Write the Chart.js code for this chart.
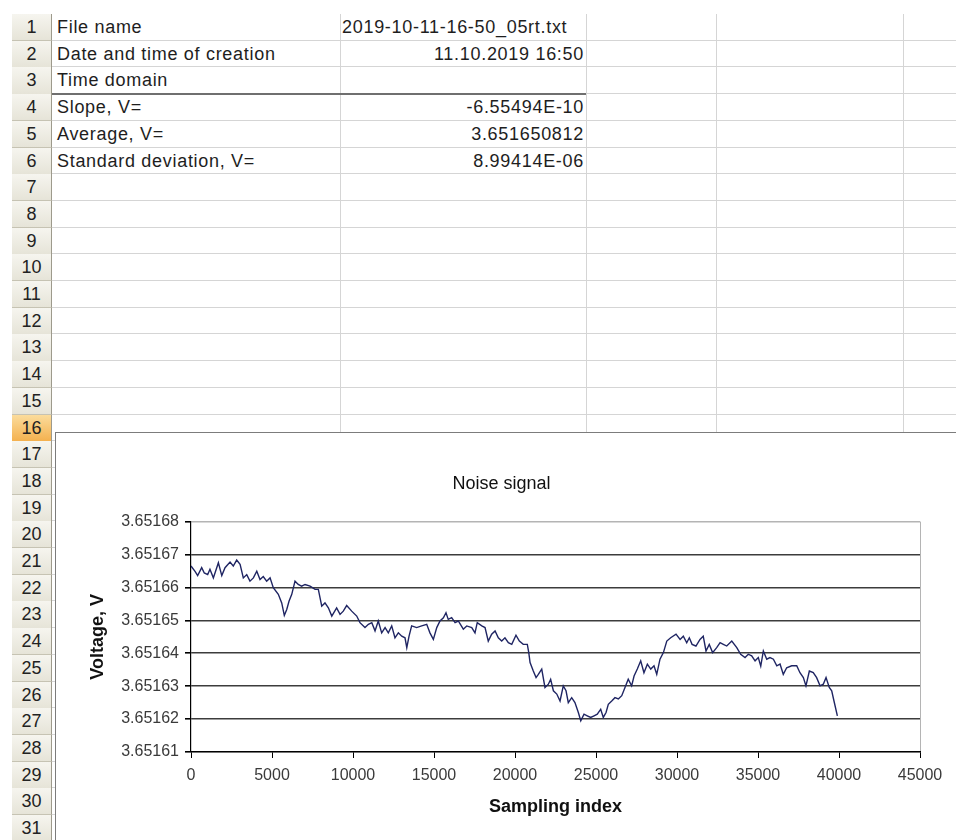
<!DOCTYPE html>
<html>
<head>
<meta charset="utf-8">
<title>Noise signal</title>
<script src="https://cdn.jsdelivr.net/npm/chart.js@4.4.1/dist/chart.umd.min.js"></script>
<style>
  html, body { margin: 0; padding: 0; background: #fff; }
  body {
    position: relative; width: 956px; height: 840px; overflow: hidden;
    font-family: "Liberation Sans", Arial, sans-serif; color: #1e1e1e;
  }
  .abs { position: absolute; box-sizing: border-box; }
  .hline { height: 1px; background: #d5d5d5; }
  .vline { width: 1px; background: #d5d5d5; }
  .rowhead {
    background: linear-gradient(#f6f5ef, #e6e4d8);
    border-bottom: 1px solid #c6c3b3; border-right: 1px solid #9d9a8c;
    font-size: 18px; text-align: center; color: #222;
  }
  .rowhead.sel { background: linear-gradient(#fbdc9c, #f4b14f); }
  .cell { font-size: 18px; letter-spacing: 0.7px; white-space: nowrap; color: #1e1e1e; }
  #chartBox {
    position: absolute; left: 55px; top: 432px; width: 901px; height: 408px;
    background: #fff; border-top: 1px solid #7c7c7c; border-left: 1px solid #7c7c7c;
  }
  #chartBox canvas { display: block; }
</style>
</head>
<body>
<div id="sheet"></div>
<div id="chartBox"><canvas id="noiseChart" width="900" height="407"></canvas></div>
<script>
// ----- DATA -----
const sampleIndex = [
  0, 250, 410, 660, 820, 1030, 1170, 1380, 1690, 1900, 2100, 2410,
  2610, 2820, 3030, 3230, 3440, 3640, 3850, 4060, 4260, 4460, 4670, 4880,
  5080, 5390, 5600, 5760, 5910, 6050, 6220, 6420, 6620, 6830, 7040, 7350,
  7660, 7860, 8070, 8270, 8480, 8690, 8990, 9200, 9400, 9610, 9920, 10230,
  10430, 10740, 10950, 11160, 11360, 11560, 11770, 11980, 12180, 12390, 12590, 12800,
  13010, 13210, 13320, 13460, 13620, 13930, 14240, 14550, 14750, 14960, 15170, 15370,
  15580, 15740, 15880, 16090, 16300, 16500, 16810, 17020, 17330, 17530, 17670, 17950,
  18150, 18350, 18560, 18770, 18970, 19180, 19380, 19590, 19800, 20060, 20270, 20510,
  20760, 20850, 20930, 21130, 21300, 21440, 21650, 21850, 22060, 22200, 22370, 22580,
  22780, 22980, 23150, 23290, 23500, 23700, 23910, 24060, 24260, 24460, 24670, 24880,
  25080, 25290, 25450, 25620, 25760, 25970, 26170, 26380, 26590, 26790, 26990, 27200,
  27350, 27550, 27760, 27960, 28170, 28380, 28580, 28750, 28950, 29160, 29370, 29610,
  29940, 30190, 30390, 30600, 30760, 30930, 31170, 31420, 31620, 31790, 31990, 32200,
  32450, 32660, 32860, 33070, 33380, 33690, 33930, 34200, 34400, 34610, 34820, 35020,
  35170, 35330, 35540, 35740, 35950, 36160, 36360, 36560, 36770, 37080, 37390, 37590,
  37800, 37960, 38170, 38410, 38620, 38830, 39030, 39200, 39400, 39550, 39690, 39900
];

const voltage = [
  3.6516665, 3.6516649, 3.6516636, 3.6516660, 3.6516644, 3.6516639, 3.6516655, 3.6516629, 3.6516675, 3.6516636, 3.6516660, 3.6516677,
  3.6516665, 3.6516683, 3.6516670, 3.6516629, 3.6516639, 3.6516619, 3.6516629, 3.6516649, 3.6516624, 3.6516633, 3.6516619, 3.6516629,
  3.6516599, 3.6516579, 3.6516553, 3.6516515, 3.6516533, 3.6516558, 3.6516579, 3.6516619, 3.6516609, 3.6516604, 3.6516609, 3.6516604,
  3.6516594, 3.6516594, 3.6516543, 3.6516553, 3.6516538, 3.6516513, 3.6516538, 3.6516518, 3.6516528, 3.6516545, 3.6516528, 3.6516513,
  3.6516493, 3.6516478, 3.6516488, 3.6516493, 3.6516468, 3.6516498, 3.6516462, 3.6516478, 3.6516462, 3.6516483, 3.6516447, 3.6516462,
  3.6516452, 3.6516447, 3.6516417, 3.6516452, 3.6516483, 3.6516478, 3.6516483, 3.6516488, 3.6516462, 3.6516442, 3.6516478, 3.6516498,
  3.6516508, 3.6516523, 3.6516503, 3.6516508, 3.6516493, 3.6516498, 3.6516473, 3.6516483, 3.6516478, 3.6516462, 3.6516493, 3.6516483,
  3.6516478, 3.6516437, 3.6516458, 3.6516468, 3.6516447, 3.6516437, 3.6516447, 3.6516432, 3.6516427, 3.6516455, 3.6516437, 3.6516427,
  3.6516427, 3.6516402, 3.6516372, 3.6516346, 3.6516326, 3.6516336, 3.6516352, 3.6516296, 3.6516306, 3.6516321, 3.6516286, 3.6516276,
  3.6516255, 3.6516301, 3.6516286, 3.6516250, 3.6516265, 3.6516250, 3.6516220, 3.6516195, 3.6516215, 3.6516210, 3.6516205, 3.6516210,
  3.6516215, 3.6516230, 3.6516205, 3.6516220, 3.6516245, 3.6516255, 3.6516265, 3.6516261, 3.6516271, 3.6516296, 3.6516321, 3.6516301,
  3.6516331, 3.6516352, 3.6516377, 3.6516341, 3.6516367, 3.6516352, 3.6516362, 3.6516336, 3.6516382, 3.6516402, 3.6516437, 3.6516447,
  3.6516458, 3.6516442, 3.6516452, 3.6516432, 3.6516447, 3.6516427, 3.6516422, 3.6516442, 3.6516452, 3.6516407, 3.6516427, 3.6516402,
  3.6516417, 3.6516432, 3.6516427, 3.6516422, 3.6516437, 3.6516417, 3.6516397, 3.6516387, 3.6516397, 3.6516392, 3.6516377, 3.6516387,
  3.6516361, 3.6516407, 3.6516382, 3.6516387, 3.6516382, 3.6516362, 3.6516367, 3.6516336, 3.6516356, 3.6516362, 3.6516362, 3.6516341,
  3.6516326, 3.6516301, 3.6516346, 3.6516341, 3.6516326, 3.6516301, 3.6516306, 3.6516326, 3.6516296, 3.6516286, 3.6516255, 3.6516210
];

const xTicks = [0, 5000, 10000, 15000, 20000, 25000, 30000, 35000, 40000, 45000];
const yTicks = [3.65161, 3.65162, 3.65163, 3.65164, 3.65165, 3.65166, 3.65167, 3.65168];

// worksheet cells above the chart
const cellRows = [
  ['File name', '2019-10-11-16-50_05rt.txt', 'left'],
  ['Date and time of creation', '11.10.2019 16:50', 'right'],
  ['Time domain', '', 'left'],
  ['Slope, V=', '-6.55494E-10', 'right'],
  ['Average, V=', '3.651650812', 'right'],
  ['Standard deviation, V=', '8.99414E-06', 'right']
];

// ----- SHEET GRID -----
(function () {
  const sheet = document.getElementById('sheet');
  const ROW_TOP = 14, ROW_H = 26.7, ROWS = 31;
  const HEAD_L = 12, HEAD_W = 40, GRID_L = 52;
  const colLines = [340, 586, 716, 903];

  function add(cls, css, text) {
    const el = document.createElement('div');
    el.className = 'abs ' + cls;
    Object.keys(css).forEach(k => { el.style[k] = typeof css[k] === 'number' ? css[k] + 'px' : css[k]; });
    if (text !== undefined) el.textContent = text;
    sheet.appendChild(el);
    return el;
  }

  colLines.forEach(x => add('vline', { left: x, top: ROW_TOP, height: 840 - ROW_TOP }));

  for (let r = 0; r < ROWS; r++) {
    const y = ROW_TOP + r * ROW_H;
    add('hline', { left: GRID_L, top: y + ROW_H - 1, width: 956 - GRID_L });
    add('rowhead' + (r === 15 ? ' sel' : ''),
      { left: HEAD_L, top: y, width: HEAD_W, height: ROW_H + 0.5, lineHeight: ROW_H + 'px' }, String(r + 1));
  }

  cellRows.forEach((row, i) => {
    const y = ROW_TOP + i * ROW_H;
    add('cell', { left: 57, top: y, height: ROW_H, lineHeight: ROW_H + 'px' }, row[0]);
    if (row[1]) {
      if (row[2] === 'left') {
        add('cell', { left: 342, top: y, height: ROW_H, lineHeight: ROW_H + 'px' }, row[1]);
      } else {
        add('cell', { left: 342, width: 242, top: y, height: ROW_H, lineHeight: ROW_H + 'px', textAlign: 'right' }, row[1]);
      }
    }
  });

  // heavier border under "Time domain"
  add('', { left: GRID_L, top: ROW_TOP + 3 * ROW_H - 1.5, width: 586 - GRID_L, height: 2, background: '#6f6f6f' });
})();

// ----- CHART -----
(function () {
  const FONT = '"Liberation Sans", Arial, sans-serif';
  const points = sampleIndex.map((x, i) => ({ x: x, y: voltage[i] }));
  const yTop = yTicks[yTicks.length - 1];
  const xEnd = xTicks[xTicks.length - 1];

  new Chart(document.getElementById('noiseChart'), {
    type: 'scatter',
    data: {
      datasets: [{
        data: points,
        showLine: true,
        borderColor: '#1f2563',
        borderWidth: 1.4,
        pointRadius: 0,
        tension: 0
      }]
    },
    options: {
      responsive: false,
      animation: false,
      devicePixelRatio: 1,
      layout: { padding: { left: 27, right: 36, top: 0, bottom: 18 } },
      plugins: {
        legend: { display: false },
        tooltip: { enabled: false },
        title: {
          display: true,
          text: 'Noise signal',
          color: '#111',
          font: { family: FONT, size: 18, weight: 'normal' },
          padding: { top: 40, bottom: 27 }
        }
      },
      scales: {
        x: {
          type: 'linear',
          min: xTicks[0],
          max: xEnd,
          afterBuildTicks: (scale) => { scale.ticks = xTicks.map(v => ({ value: v })); },
          afterFit: (scale) => { scale.height = 70; },
          border: { display: true, color: '#000', width: 1.2 },
          grid: {
            drawOnChartArea: true,
            drawTicks: true,
            tickLength: 6,
            tickColor: '#000',
            lineWidth: 1,
            color: (ctx) => (ctx.tick && ctx.tick.value === xEnd ? '#b4b4b4' : 'rgba(0,0,0,0)')
          },
          ticks: {
            padding: 8,
            maxRotation: 0,
            color: '#3a3a3a',
            font: { family: FONT, size: 16 },
            callback: (v) => String(v)
          },
          title: {
            display: true,
            text: 'Sampling index',
            color: '#111',
            font: { family: FONT, size: 18, weight: 'bold' },
            padding: { top: 4, bottom: 4 }
          }
        },
        y: {
          type: 'linear',
          min: yTicks[0],
          max: yTop,
          afterBuildTicks: (scale) => { scale.ticks = yTicks.map(v => ({ value: v })); },
          afterFit: (scale) => { scale.width = 108; },
          border: { display: true, color: '#000', width: 1.2 },
          grid: {
            drawTicks: true,
            tickLength: 6,
            tickColor: '#000',
            lineWidth: 1.6,
            color: (ctx) => (ctx.tick && Math.abs(ctx.tick.value - yTop) < 1e-9 ? '#b4b4b4' : '#3c3c3c')
          },
          ticks: {
            padding: 6,
            color: '#3a3a3a',
            font: { family: FONT, size: 16 },
            callback: (v) => Number(v).toFixed(5)
          },
          title: {
            display: true,
            text: 'Voltage, V',
            color: '#111',
            font: { family: FONT, size: 18, weight: 'bold' },
            padding: { top: 4, bottom: 4 }
          }
        }
      }
    }
  });
})();
</script>
</body>
</html>
